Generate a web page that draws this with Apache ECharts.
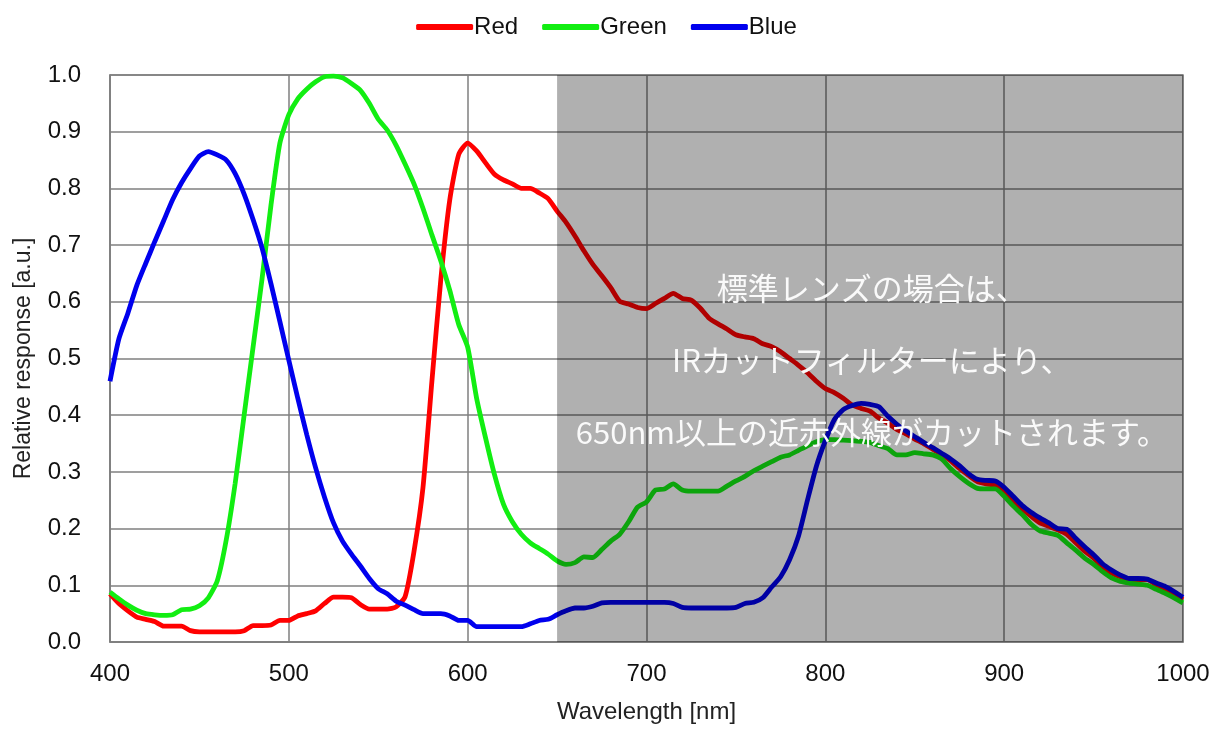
<!DOCTYPE html>
<html>
<head>
<meta charset="utf-8">
<script src="https://cdn.jsdelivr.net/npm/echarts@6/dist/echarts.min.js"></script>
<style>
html,body{margin:0;padding:0;background:#fff;}
#chart{width:1213px;height:729px;}
</style>
</head>
<body>
<div id="chart"></div>
<script>
// wavelengths 400..1000 step 5
var wavelengths = [];
for (var w = 400; w <= 1000; w += 5) wavelengths.push(w);

var redValues = [
0.085,0.068,0.055,0.044,0.040,0.036,0.028,0.028,0.028,0.020,
0.018,0.018,0.018,0.018,0.018,0.020,0.029,0.029,0.030,0.038,
0.038,0.046,0.050,0.055,0.068,0.079,0.079,0.078,0.066,0.058,
0.058,0.058,0.062,0.080,0.160,0.272,0.460,0.640,0.780,0.860,
0.880,0.866,0.845,0.825,0.815,0.808,0.800,0.800,0.792,0.782,
0.760,0.740,0.716,0.690,0.666,0.646,0.625,0.601,0.596,0.590,
0.588,0.597,0.606,0.615,0.606,0.603,0.589,0.571,0.561,0.552,
0.542,0.538,0.535,0.526,0.521,0.512,0.500,0.488,0.475,0.460,
0.447,0.440,0.430,0.418,0.412,0.407,0.395,0.386,0.375,0.367,
0.358,0.350,0.340,0.331,0.320,0.306,0.294,0.283,0.279,0.276,
0.266,0.250,0.235,0.222,0.210,0.204,0.198,0.190,0.175,0.160,
0.148,0.133,0.122,0.115,0.110,0.110,0.110,0.101,0.093,0.084,
0.075];

var greenValues = [
0.088,0.076,0.065,0.056,0.050,0.048,0.047,0.048,0.057,0.058,
0.064,0.078,0.108,0.180,0.280,0.400,0.520,0.640,0.770,0.880,
0.930,0.958,0.975,0.988,0.997,0.998,0.995,0.985,0.973,0.950,
0.922,0.903,0.876,0.843,0.808,0.765,0.718,0.672,0.620,0.560,
0.520,0.430,0.360,0.295,0.243,0.212,0.190,0.175,0.165,0.155,
0.143,0.137,0.140,0.150,0.149,0.163,0.178,0.190,0.212,0.238,
0.247,0.268,0.270,0.279,0.268,0.266,0.266,0.266,0.266,0.275,
0.284,0.292,0.302,0.310,0.318,0.326,0.330,0.338,0.346,0.353,
0.357,0.357,0.356,0.355,0.354,0.352,0.346,0.341,0.330,0.330,
0.334,0.332,0.330,0.323,0.306,0.292,0.280,0.271,0.270,0.270,
0.257,0.240,0.225,0.208,0.196,0.192,0.188,0.175,0.162,0.148,
0.137,0.124,0.113,0.107,0.104,0.102,0.100,0.093,0.086,0.078,
0.069];

var blueValues = [
0.460,0.535,0.580,0.629,0.668,0.706,0.743,0.780,0.810,0.835,
0.857,0.865,0.859,0.850,0.826,0.790,0.745,0.695,0.632,0.565,
0.497,0.430,0.366,0.307,0.255,0.210,0.178,0.155,0.134,0.112,
0.094,0.085,0.072,0.065,0.057,0.050,0.050,0.050,0.046,0.038,
0.038,0.027,0.027,0.027,0.027,0.027,0.027,0.032,0.038,0.040,
0.048,0.055,0.060,0.060,0.063,0.069,0.070,0.070,0.070,0.070,
0.070,0.070,0.070,0.068,0.061,0.060,0.060,0.060,0.060,0.060,
0.061,0.068,0.070,0.078,0.097,0.115,0.145,0.187,0.250,0.310,
0.355,0.392,0.410,0.417,0.421,0.419,0.415,0.398,0.384,0.372,
0.362,0.352,0.343,0.333,0.323,0.311,0.297,0.287,0.285,0.284,
0.273,0.257,0.241,0.229,0.219,0.210,0.200,0.199,0.183,0.168,
0.154,0.138,0.127,0.118,0.112,0.112,0.111,0.104,0.098,0.089,
0.079];

var seriesNames = ['Red', 'Green', 'Blue'];
var seriesColors = ['#ff0000', '#12ee12', '#0000ee'];
var seriesValues = [redValues, greenValues, blueValues];
var cutStart = 650, cutEnd = 1000;
var noteLines = ['標準レンズの場合は、', 'IRカットフィルターにより、', '650nm以上の近赤外線がカットされます。'];
var noteX = 826;
var noteY = [0.624, 0.4965, 0.37];

function pairs(vals) {
  return wavelengths.map(function (x, i) { return [x, vals[i]]; });
}

var chart = echarts.init(document.getElementById('chart'), null, {renderer: 'canvas'});
var FONT = '"Liberation Sans", Arial, sans-serif';

var series = seriesNames.map(function (n, i) {
  return {
    name: n, type: 'line', data: pairs(seriesValues[i]),
    showSymbol: false, symbol: 'none', smooth: 0.2, z: 2,
    lineStyle: {color: seriesColors[i], width: 4.8},
    itemStyle: {color: seriesColors[i]}
  };
});
series.push({
  name: 'cut', type: 'line', data: [], z: 20, silent: true,
  markArea: {
    z: 20, silent: true,
    itemStyle: {color: 'rgba(0,0,0,0.31)'},
    data: [[{xAxis: cutStart, yAxis: 0}, {xAxis: cutEnd, yAxis: 1}]]
  }
});

chart.setOption({
  animation: false,
  backgroundColor: '#fff',
  textStyle: {fontFamily: FONT},
  legend: {
    data: seriesNames, top: 10, left: 'center',
    icon: 'roundRect', itemWidth: 57, itemHeight: 6, itemGap: 24,
    textStyle: {fontSize: 24, color: '#111', fontFamily: FONT, padding: [0,0,0,-4]}
  },
  grid: {left: 110, right: 30, top: 75, bottom: 84, show: true, borderColor: '#7f7f7f', borderWidth: 1.5},
  xAxis: {
    type: 'value', min: 400, max: 1000, interval: 100,
    name: 'Wavelength [nm]', nameLocation: 'middle', nameGap: 58,
    nameTextStyle: {fontSize: 24, color: '#222', fontFamily: FONT},
    axisLine: {show: true, lineStyle: {color: '#7f7f7f', width: 1.5}},
    axisTick: {show: false},
    axisLabel: {fontSize: 24, color: '#111', margin: 20, fontFamily: FONT,
      formatter: function (v) { return String(v); }},
    splitLine: {show: true, lineStyle: {color: '#7f7f7f', width: 1.5}}
  },
  yAxis: {
    type: 'value', min: 0, max: 1, interval: 0.1,
    name: 'Relative response [a.u.]', nameLocation: 'middle', nameGap: 75,
    nameTextStyle: {fontSize: 23, color: '#222', fontFamily: FONT},
    axisLine: {show: true, lineStyle: {color: '#7f7f7f', width: 1.5}},
    axisTick: {show: false},
    axisLabel: {fontSize: 24, color: '#111', margin: 29, fontFamily: FONT,
      formatter: function (v) { return v.toFixed(1); }},
    splitLine: {show: true, lineStyle: {color: '#7f7f7f', width: 1.5}}
  },
  series: series
});

// annotation text, centred in the shaded region
var cx = chart.convertToPixel({xAxisIndex: 0}, noteX);
chart.setOption({
  graphic: noteLines.map(function (t, i) {
    return {
      type: 'text', z: 100, zlevel: 0, silent: true,
      x: cx, y: chart.convertToPixel({yAxisIndex: 0}, noteY[i]),
      style: {
        text: t, fill: '#fafafa', fontSize: 31,
        fontFamily: '"Noto Sans CJK JP", sans-serif',
        align: 'center', verticalAlign: 'middle'
      }
    };
  })
});
</script>
</body>
</html>
